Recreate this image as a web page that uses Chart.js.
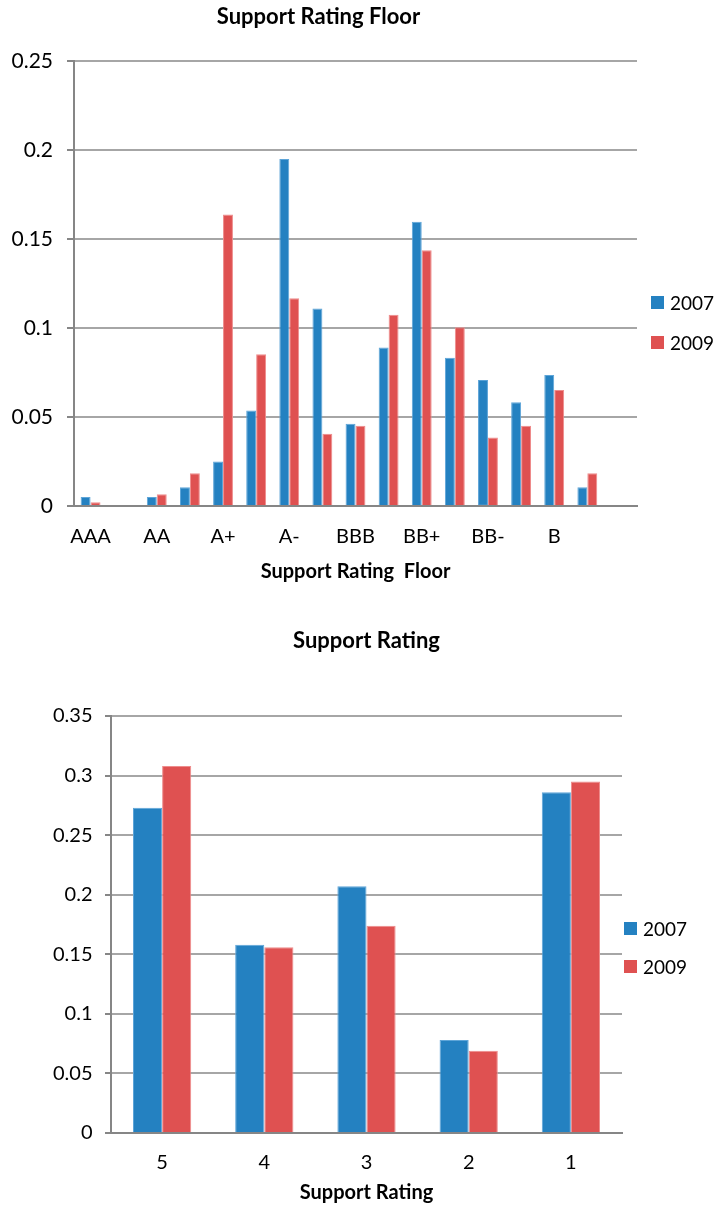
<!DOCTYPE html>
<html>
<head>
<meta charset="utf-8">
<script src="https://cdn.jsdelivr.net/npm/chart.js@4.4.0/dist/chart.umd.min.js"></script>
<style>
  html, body { margin: 0; padding: 0; background: #fff; }
  body { width: 721px; height: 1209px; position: relative; overflow: hidden; }
  .box { position: absolute; left: 0; width: 721px; }
  .legend { position: absolute; font: 19px Lato, sans-serif; color: #000; }
  .item { position: absolute; left: 0; height: 20px; display: flex; align-items: center; white-space: nowrap; }
  .swatch { width: 13px; height: 13px; margin-right: 6px; }
</style>
</head>
<body>
<div class="box" style="top:0;height:600px"><canvas id="floorChart"></canvas></div>
<div class="box" style="top:600px;height:609px"><canvas id="ratingChart"></canvas></div>
<div class="legend" id="floorLegend" style="left:651px;top:292px"></div>
<div class="legend" id="ratingLegend" style="left:624px;top:918px"></div>
<script>
// data
const SERIES = ['2007', '2009'];
const COLORS = ['#2481c1', '#df5151'];
const BORDERS = ['#5ea5d8', '#ee8c8c'];

const FLOOR_LABELS = ['AAA', 'AA+', 'AA', 'AA-', 'A+', 'A', 'A-', 'BBB+', 'BBB', 'BBB-', 'BB+', 'BB', 'BB-', 'B+', 'B', 'B-', ''];
const FLOOR_2007 = [0.005, null, 0.005, 0.0105, 0.025, 0.0536, 0.195, 0.1109, 0.0461, 0.089, 0.1597, 0.0832, 0.0708, 0.0582, 0.0736, 0.0105, null];
const FLOOR_2009 = [0.002, null, 0.0066, 0.0184, 0.1637, 0.0852, 0.1167, 0.0405, 0.0451, 0.1074, 0.1436, 0.1004, 0.0384, 0.0451, 0.0651, 0.0184, null];
const FLOOR_Y = { min: 0, max: 0.25, step: 0.05 };

const RATING_LABELS = ['5', '4', '3', '2', '1'];
const RATING_2007 = [0.273, 0.158, 0.207, 0.078, 0.286];
const RATING_2009 = [0.308, 0.156, 0.174, 0.069, 0.295];
const RATING_Y = { min: 0, max: 0.35, step: 0.05 };

const FONT = 'Lato, "DejaVu Sans", sans-serif';
const GRID = '#a6a6a6';
const AXIS = '#868686';
Chart.defaults.font.family = FONT;
Chart.defaults.color = '#000';

function makeChart(id, labels, values, yr, g) {
  return new Chart(document.getElementById(id), {
    type: 'bar',
    data: {
      labels: labels,
      datasets: values.map((v, i) => ({
        label: SERIES[i],
        data: v,
        backgroundColor: COLORS[i],
        borderColor: BORDERS[i],
        borderWidth: 1,
        barPercentage: 1,
        categoryPercentage: g.cat
      }))
    },
    options: {
      responsive: true,
      maintainAspectRatio: false,
      animation: false,
      layout: { padding: { left: 0, right: g.right, top: 0, bottom: 0 } },
      plugins: {
        legend: { display: false },
        tooltip: { enabled: false },
        title: {
          display: true,
          text: g.title,
          fullSize: g.titleFull,
          color: '#000',
          font: { size: 22, weight: 'bold' },
          padding: g.titlePad
        }
      },
      scales: {
        x: {
          // tickLength is used only as the gap between axis and labels (grid is hidden)
          grid: { display: false, tickLength: g.xGap },
          border: { display: true, color: AXIS, width: 2 },
          ticks: {
            autoSkip: false,
            maxRotation: 0,
            minRotation: 0,
            padding: 0,
            font: { size: g.tick },
            callback: function (v, i) { return i % g.every === 0 ? this.getLabelForValue(v) : ''; }
          },
          title: {
            display: true,
            text: g.xTitle,
            font: { size: 20, weight: 'bold' },
            padding: g.xTitlePad
          }
        },
        y: {
          min: yr.min,
          max: yr.max,
          ticks: {
            stepSize: yr.step,
            padding: g.yPad,
            font: { size: g.yTick },
            callback: v => String(+v.toFixed(2))
          },
          grid: { color: GRID, lineWidth: 2, tickLength: g.tickLen, tickColor: AXIS, tickWidth: 2 },
          border: { color: AXIS, width: 2 },
          afterFit: s => { s.width = g.yWidth; }
        }
      }
    }
  });
}

function makeLegend(id, step) {
  const el = document.getElementById(id);
  SERIES.forEach((name, i) => {
    const it = document.createElement('div');
    it.className = 'item';
    it.style.top = (i * step) + 'px';
    it.innerHTML = '<span class="swatch" style="background:' + COLORS[i] + '"></span>' + name;
    el.appendChild(it);
  });
}

makeChart('floorChart', FLOOR_LABELS, [FLOOR_2007, FLOOR_2009], FLOOR_Y, {
  title: 'Support Rating Floor', titleFull: true, titlePad: { top: 3.8, bottom: 30.8 },
  xTitle: 'Support Rating  Floor', xGap: 18.7, xTitlePad: { top: 11.4, bottom: 16 },
  tick: 20, yTick: 21, yPad: 14, tickLen: 7, yWidth: 74, right: 84, cat: 0.6, every: 2
});
makeChart('ratingChart', RATING_LABELS, [RATING_2007, RATING_2009], RATING_Y, {
  title: 'Support Rating', titleFull: false, titlePad: { top: 27.8, bottom: 61.8 },
  xTitle: 'Support Rating', xGap: 18, xTitlePad: { top: 6, bottom: 4 },
  tick: 20, yTick: 20, yPad: 12.5, tickLen: 6, yWidth: 111, right: 99, cat: 0.57, every: 1
});
makeLegend('floorLegend', 40);
makeLegend('ratingLegend', 38);
</script>
</body>
</html>
